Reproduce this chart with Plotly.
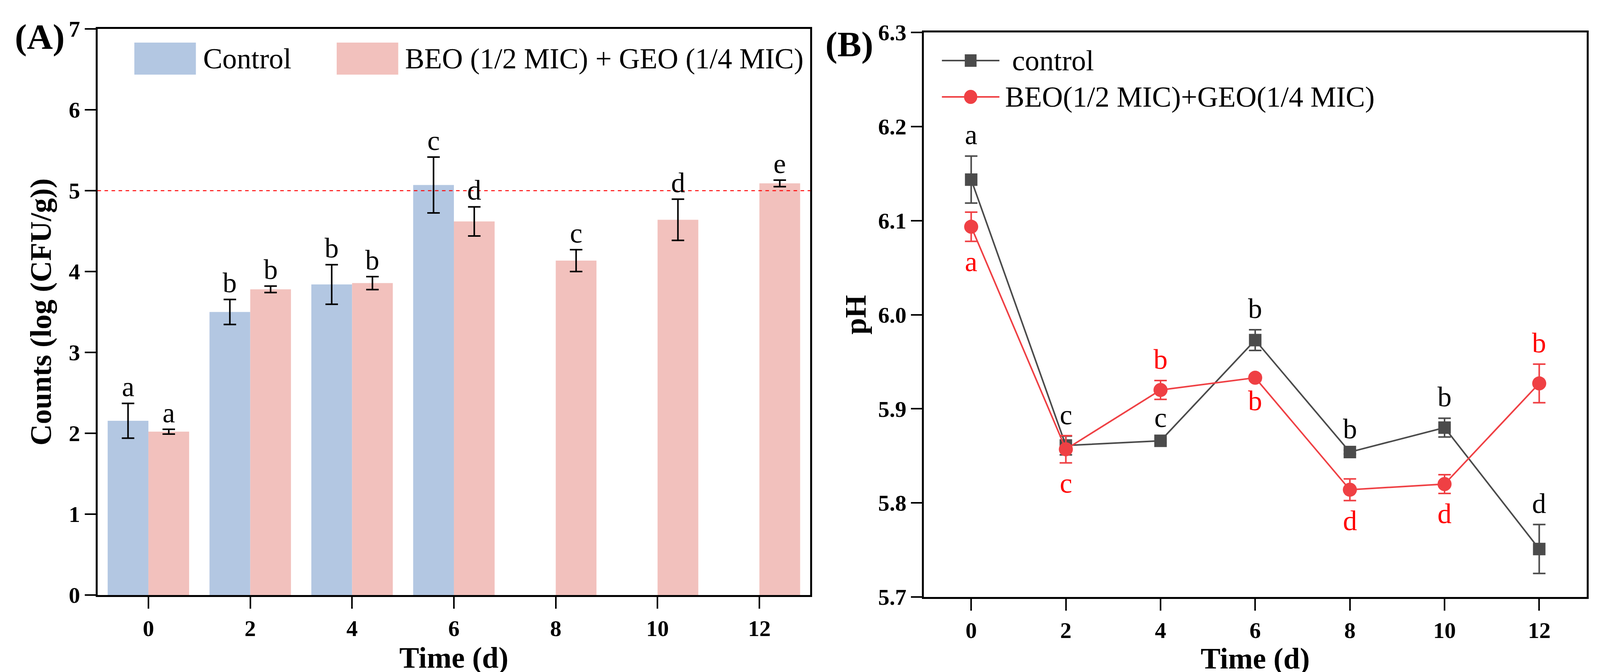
import plotly.graph_objects as go

# ---------------- data ----------------
days = [0, 2, 4, 6, 8, 10, 12]

# Panel A: counts log(CFU/g)
count_control = [2.155, 3.50, 3.84, 5.07, None, None, None]
count_control_err = [0.215, 0.155, 0.245, 0.345, None, None, None]
count_control_letters = ["a", "b", "b", "c", None, None, None]
count_treat = [2.02, 3.78, 3.857, 4.62, 4.135, 4.64, 5.09]
count_treat_err = [0.03, 0.04, 0.08, 0.18, 0.135, 0.255, 0.04]
count_treat_letters = ["a", "b", "b", "d", "c", "d", "e"]
threshold = 5

# Panel B: pH
ph_control = [6.1436, 5.861, 5.866, 5.973, 5.854, 5.880, 5.751]
ph_control_err = [0.025, 0.010, 0.002, 0.011, 0.002, 0.010, 0.026]
ph_control_letters = ["a", "c", "c", "b", "b", "b", "d"]
ph_control_pos = ["above", "above", "above", "above", "above", "above", "above"]
ph_treat = [6.0935, 5.857, 5.920, 5.933, 5.814, 5.820, 5.927]
ph_treat_err = [0.0155, 0.0145, 0.010, 0.003, 0.0115, 0.010, 0.0205]
ph_treat_letters = ["a", "c", "b", "b", "d", "d", "b"]
ph_treat_pos = ["below", "below", "above", "below", "below", "below", "above"]

name_control_a = "Control"
name_treat_a = "BEO (1/2 MIC) + GEO (1/4 MIC)"
name_control_b = "control"
name_treat_b = "BEO(1/2 MIC)+GEO(1/4 MIC)"

x_ticks = [0, 2, 4, 6, 8, 10, 12]
ya_ticks = [0, 1, 2, 3, 4, 5, 6, 7]
yb_ticks = [5.7, 5.8, 5.9, 6.0, 6.1, 6.2, 6.3]

# ---------------- style ----------------
W, H = 4324, 1720          # reference size; positions given as fractions of it
BLUE = "#B3C7E2"
PINK = "#F2C1BD"
GREY = "#4B4B4B"
RED = "#EF4044"
TXT_RED = "#FF0000"
FONT = "Liberation Serif"


def px(x):
    return x / W


def py(y):
    return (H - y) / H


fig = go.Figure()

fig.add_trace(go.Bar(
    x=days, y=count_control, name=name_control_a, marker=dict(color=BLUE, line=dict(width=0)),
    error_y=dict(type="data", array=count_control_err, color="black", thickness=4, width=16),
    xaxis="x", yaxis="y", showlegend=False))
fig.add_trace(go.Bar(
    x=days, y=count_treat, name=name_treat_a, marker=dict(color=PINK, line=dict(width=0)),
    error_y=dict(type="data", array=count_treat_err, color="black", thickness=4, width=16),
    xaxis="x", yaxis="y", showlegend=False))

fig.add_trace(go.Scatter(
    x=days, y=ph_control, name=name_control_b, mode="lines+markers",
    line=dict(color=GREY, width=4),
    marker=dict(symbol="square", size=32, color=GREY),
    error_y=dict(type="data", array=ph_control_err, color=GREY, thickness=4, width=16),
    xaxis="x2", yaxis="y2", showlegend=False))
fig.add_trace(go.Scatter(
    x=days, y=ph_treat, name=name_treat_b, mode="lines+markers",
    line=dict(color=RED, width=4),
    marker=dict(symbol="circle", size=36, color=RED),
    error_y=dict(type="data", array=ph_treat_err, color=RED, thickness=4, width=16),
    xaxis="x2", yaxis="y2", showlegend=False))

annotations = []
# letters panel A (bar group offsets: each bar 0.8 wide, centers at +-0.4)
for d, v, e, l in zip(days, count_control, count_control_err, count_control_letters):
    if v is None:
        continue
    annotations.append(dict(x=d - 0.4, y=v + e, xref="x", yref="y", text=l, showarrow=False,
                            yanchor="bottom", yshift=0,
                            font=dict(family=FONT, size=72, color="black")))
for d, v, e, l in zip(days, count_treat, count_treat_err, count_treat_letters):
    annotations.append(dict(x=d + 0.4, y=v + e, xref="x", yref="y", text=l, showarrow=False,
                            yanchor="bottom", yshift=0,
                            font=dict(family=FONT, size=72, color="black")))


def ph_labels(vals, errs, letters, pos, color):
    out = []
    for d, v, e, l, p in zip(days, vals, errs, letters, pos):
        if p == "above":
            out.append(dict(x=d, y=v + e, xref="x2", yref="y2", text=l, showarrow=False,
                            yanchor="bottom", yshift=12,
                            font=dict(family=FONT, size=72, color=color)))
        else:
            out.append(dict(x=d, y=v - e, xref="x2", yref="y2", text=l, showarrow=False,
                            yanchor="top", yshift=-10,
                            font=dict(family=FONT, size=72, color=color)))
    return out


annotations += ph_labels(ph_control, ph_control_err, ph_control_letters, ph_control_pos, "black")
annotations += ph_labels(ph_treat, ph_treat_err, ph_treat_letters, ph_treat_pos, TXT_RED)

# panel labels
annotations.append(dict(x=px(30), y=py(86), xref="paper", yref="paper", text="(A)", showarrow=False,
                        xanchor="left", yanchor="middle",
                        font=dict(family=FONT, size=92, color="black", weight="bold")))
annotations.append(dict(x=px(2229), y=py(105), xref="paper", yref="paper", text="(B)", showarrow=False,
                        xanchor="left", yanchor="middle",
                        font=dict(family=FONT, size=92, color="black", weight="bold")))

# manual legends
shapes = []
shapes.append(dict(type="rect", xref="paper", yref="paper", x0=px(356), x1=px(523), y0=py(183), y1=py(101),
                   fillcolor=BLUE, line=dict(width=0)))
shapes.append(dict(type="rect", xref="paper", yref="paper", x0=px(905), x1=px(1072), y0=py(183), y1=py(101),
                   fillcolor=PINK, line=dict(width=0)))
annotations.append(dict(x=px(540), y=py(142), xref="paper", yref="paper", text=name_control_a, showarrow=False,
                        xanchor="left", yanchor="middle", font=dict(family=FONT, size=74, color="black")))
annotations.append(dict(x=px(1088), y=py(142), xref="paper", yref="paper", text=name_treat_a, showarrow=False,
                        xanchor="left", yanchor="middle", font=dict(family=FONT, size=74, color="black")))

# legend B
for yc, col, sym, txt, tx in [(147, GREY, "rect", name_control_b, 2735), (240, RED, "circle", name_treat_b, 2716)]:
    shapes.append(dict(type="line", xref="paper", yref="paper", x0=px(2547), x1=px(2703), y0=py(yc), y1=py(yc),
                       line=dict(color=col, width=4)))
    hs = 16 if sym == "rect" else 18
    shapes.append(dict(type=sym, xref="paper", yref="paper", x0=px(2625) - hs / W, x1=px(2625) + hs / W,
                       y0=py(yc + hs), y1=py(yc - hs), fillcolor=col, line=dict(width=0)))
    annotations.append(dict(x=px(tx), y=py(yc), xref="paper", yref="paper", text=txt, showarrow=False,
                            xanchor="left", yanchor="middle", font=dict(family=FONT, size=74, color="black")))

# threshold dashed line
shapes.append(dict(type="line", xref="x domain", yref="y", x0=0, x1=1, y0=threshold, y1=threshold,
                   line=dict(color="#FF0000", width=2.5, dash="dash")))

tickfont = dict(family=FONT, size=58, color="black", weight="bold")
titlefont = dict(family=FONT, size=76, color="black", weight="bold")
axis_common = dict(showline=True, linecolor="black", linewidth=5, mirror=True, ticks="outside",
                   tickwidth=4, tickcolor="black", showgrid=False, zeroline=False, tickfont=tickfont,
                   automargin=False)

fig.update_layout(
    autosize=True, height=H, margin=dict(l=0, r=0, t=0, b=0),
    paper_bgcolor="white", plot_bgcolor="white",
    barmode="group", bargap=0.2, bargroupgap=0,
    xaxis=dict(domain=[px(256), px(2190)], range=[-1, 13], tickvals=x_ticks, ticklen=30,
               title=dict(text="Time (d)", font=titlefont, standoff=0), anchor="y", **axis_common),
    yaxis=dict(domain=[py(1515), py(66)], range=[0, 7], tickvals=ya_ticks, ticklen=28,
               title=dict(text="Counts (log (CFU/g))", font=titlefont, standoff=22), anchor="x",
               **axis_common),
    xaxis2=dict(domain=[px(2498), px(4296)], range=[-1, 13], tickvals=x_ticks, ticklen=30,
                title=dict(text="Time (d)", font=titlefont, standoff=0), anchor="y2", **axis_common),
    yaxis2=dict(domain=[py(1520), py(75)], range=[5.7, 6.3], tickvals=yb_ticks, tickformat=".1f", ticklen=28,
                title=dict(text="pH", font=titlefont, standoff=8), anchor="x2", **axis_common),
    annotations=annotations, shapes=shapes,
)

fig.write_html("out.html")
